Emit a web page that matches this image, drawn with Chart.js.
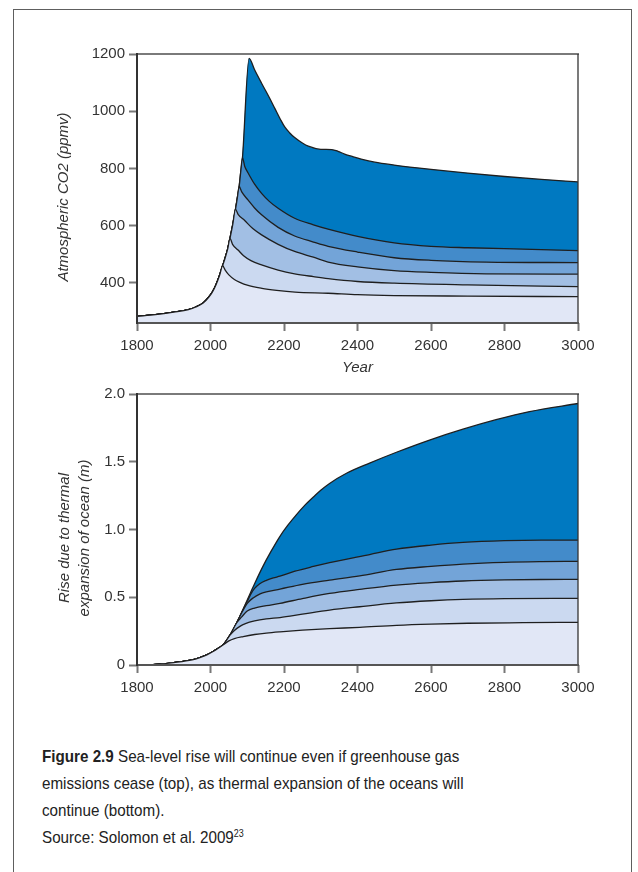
<!DOCTYPE html>
<html>
<head>
<meta charset="utf-8">
<script src="https://cdn.jsdelivr.net/npm/chart.js@4.4.1/dist/chart.umd.min.js"></script>
<style>
  html, body { margin: 0; padding: 0; background: #fff; width: 638px; height: 872px; overflow: hidden; }
  #frame { position: absolute; left: 13px; top: 9px; width: 619px; height: 900px; border: 1px solid #5e5e5e; box-sizing: border-box; }
  .wrap { position: absolute; left: 0; }
  #co2Wrap { top: 0; }
  #seaWrap { top: 380px; }
  #caption { position: absolute; left: 42px; top: 743px; width: 482px; font-family: "Liberation Sans", Arial, sans-serif; font-size: 17px; line-height: 27px; color: #222; transform: scaleX(0.894); transform-origin: 0 0; }
  #caption b { font-weight: bold; }
  #caption sup { font-size: 10px; line-height: 0; vertical-align: 6px; }
</style>
</head>
<body>
<div id="frame"></div>
<div class="wrap" id="co2Wrap"><canvas id="co2Chart" width="638" height="390"></canvas></div>
<div class="wrap" id="seaWrap"><canvas id="seaChart" width="638" height="340"></canvas></div>
<div id="caption"><b>Figure 2.9</b> Sea-level rise will continue even if greenhouse gas emissions cease (top), as thermal expansion of the oceans will continue (bottom).<br>Source: Solomon et al. 2009<sup>23</sup></div>

<script>
// Peak-CO2 scenarios (ppmv), lightest band first
const scenarios = ['450', '550', '650', '750', '850', '1200'];
const bandColors = ['#e1e7f6', '#cbd9f0', '#a2bfe4', '#73a4d8', '#438bca', '#0079c1'];

// Axis ticks
const yearTicks = [1800, 2000, 2200, 2400, 2600, 2800, 3000];
const co2Ticks = [400, 600, 800, 1000, 1200];
const seaTicks = [0, 0.5, 1.0, 1.5, 2.0];

// ---- Atmospheric CO2 (ppmv) ----
// Shared emissions-phase rise, up to the highest peak
const co2RiseYears  = [1800, 1850, 1900, 1940, 1960, 1980, 1995, 2005, 2015, 2025, 2033, 2040, 2047, 2053, 2060, 2068, 2073, 2078, 2082, 2087, 2105];
const co2RiseValues = [283,  289,  298,  307,  316,  330,  350,  368,  394,  428,  460,  488,  520,  556,  600,  657,  697,  737,  785,  838,  1185];
// Year at which emissions stop in each scenario
const co2PeakYears = [2033, 2053, 2068, 2078, 2087, 2105];
// Decline after emissions cease
const co2Tail450Years = [2040, 2050, 2065, 2080, 2100, 2140, 2180, 2230, 2320, 2400, 2500, 2700, 3000];
const co2Tail450      = [445,  428,  412,  402,  392,  381,  374,  368,  364,  359,  356,  354,  352];
const co2Tail550Years = [2060, 2075, 2090, 2110, 2139, 2184, 2229, 2280, 2320, 2400, 2500, 2700, 3000];
const co2Tail550      = [535,  515,  495,  478,  463,  445,  432,  422,  415,  405,  399,  393,  387];
const co2Tail650Years = [2075, 2093, 2115, 2139, 2184, 2229, 2280, 2320, 2400, 2500, 2600, 2750, 3000];
const co2Tail650      = [640,  618,  590,  568,  535,  510,  490,  473,  456,  443,  437,  432,  431];
const co2Tail750Years = [2085, 2102, 2120, 2139, 2184, 2229, 2280, 2320, 2400, 2500, 2600, 2750, 3000];
const co2Tail750      = [718,  690,  662,  638,  594,  564,  543,  528,  508,  488,  479,  473,  471];
const co2Tail850Years = [2093, 2102, 2120, 2139, 2160, 2184, 2229, 2280, 2320, 2400, 2500, 2600, 2700, 2850, 3000];
const co2Tail850      = [808,  785,  745,  713,  685,  661,  626,  603,  588,  563,  540,  528,  523,  518,  513];
const co2Tail1200Years = [2120, 2139, 2160, 2175, 2190, 2202, 2215, 2229, 2250, 2266, 2300, 2330, 2347, 2365, 2383, 2410, 2447, 2500, 2600, 2700, 2800, 2900, 3000];
const co2Tail1200      = [1145, 1098, 1048, 1010, 972,  945,  925,  908,  889,  878,  867,  866,  860,  850,  843,  833,  822,  812,  797,  784,  772,  762,  753];

// ---- Sea-level rise from thermal expansion (m) ----
const seaRiseYears  = [1800, 1850, 1900, 1950, 1971, 1990, 2007, 2020, 2035, 2053, 2071, 2080, 2092];
const seaRiseValues = [0,    0.004, 0.018, 0.038, 0.055, 0.075, 0.1, 0.122, 0.15, 0.22, 0.31, 0.36, 0.43];
const seaBranchYears = [2035, 2053, 2071, 2080, 2092, 2092];
const seaTail450Years = [2050, 2065, 2089, 2120, 2152, 2189, 2250, 2324, 2406, 2506, 2600, 2700, 2850, 3000];
const seaTail450      = [0.178, 0.195, 0.21, 0.225, 0.236, 0.245, 0.257, 0.268, 0.278, 0.293, 0.302, 0.308, 0.312, 0.315];
const seaTail550Years = [2065, 2080, 2095, 2120, 2152, 2189, 2250, 2324, 2406, 2506, 2600, 2687, 2800, 3000];
const seaTail550      = [0.255, 0.285, 0.305, 0.325, 0.34, 0.35, 0.375, 0.405, 0.43, 0.458, 0.474, 0.484, 0.49, 0.492];
const seaTail650Years = [2085, 2100, 2120, 2152, 2189, 2250, 2324, 2406, 2506, 2600, 2687, 2800, 2900, 3000];
const seaTail650      = [0.355, 0.398, 0.42, 0.438, 0.455, 0.49, 0.528, 0.558, 0.59, 0.608, 0.62, 0.628, 0.631, 0.632];
const seaTail750Years = [2090, 2100, 2116, 2135, 2152, 2189, 2250, 2324, 2406, 2506, 2600, 2687, 2800, 2900, 3000];
const seaTail750      = [0.41, 0.455, 0.495, 0.525, 0.54, 0.56, 0.595, 0.626, 0.658, 0.705, 0.728, 0.745, 0.758, 0.763, 0.765];
const seaTail850Years = [2100, 2110, 2120, 2134, 2152, 2171, 2189, 2230, 2280, 2324, 2433, 2506, 2600, 2687, 2800, 2900, 3000];
const seaTail850      = [0.47, 0.525, 0.565, 0.6, 0.625, 0.643, 0.655, 0.692, 0.727, 0.755, 0.815, 0.855, 0.885, 0.905, 0.918, 0.922, 0.922];
const seaTail1200Years = [2100, 2110, 2120, 2143, 2165, 2189, 2210, 2234, 2257, 2280, 2300, 2324, 2370, 2433, 2506, 2596, 2687, 2777, 2868, 3000];
const seaTail1200      = [0.48, 0.54, 0.6, 0.73, 0.84, 0.95, 1.03, 1.11, 1.18, 1.24, 1.29, 1.34, 1.415, 1.49, 1.57, 1.66, 1.74, 1.81, 1.87, 1.93];

// Shared rise up to the scenario's end of emissions, then its own tail
function scenarioPoints(envYears, envValues, endYear, tailYears, tailValues) {
  const pts = [];
  envYears.forEach((yr, i) => { if (yr <= endYear) pts.push({ x: yr, y: envValues[i] }); });
  tailYears.forEach((yr, i) => pts.push({ x: yr, y: tailValues[i] }));
  return pts;
}

function buildDatasets(envYears, envValues, endYears, tails) {
  // first dataset is drawn last, so the smallest scenario sits on top
  return scenarios.map((name, i) => ({
    label: name,
    data: scenarioPoints(envYears, envValues, endYears[i], tails[i][0], tails[i][1]),
    fill: 'start',
    backgroundColor: bandColors[i],
    borderColor: '#1f1f1f',
    borderWidth: 1.3,
    pointRadius: 0,
    cubicInterpolationMode: 'monotone'
  }));
}

const co2Datasets = buildDatasets(co2RiseYears, co2RiseValues, co2PeakYears, [
  [co2Tail450Years, co2Tail450], [co2Tail550Years, co2Tail550], [co2Tail650Years, co2Tail650],
  [co2Tail750Years, co2Tail750], [co2Tail850Years, co2Tail850], [co2Tail1200Years, co2Tail1200]
]);
const seaDatasets = buildDatasets(seaRiseYears, seaRiseValues, seaBranchYears, [
  [seaTail450Years, seaTail450], [seaTail550Years, seaTail550], [seaTail650Years, seaTail650],
  [seaTail750Years, seaTail750], [seaTail850Years, seaTail850], [seaTail1200Years, seaTail1200]
]);

const FONT = '"Liberation Sans", Arial, Helvetica, sans-serif';
Chart.defaults.font.family = FONT;
Chart.defaults.font.size = 15;
Chart.defaults.color = '#333';

// Plot frame: grey top edge, dark right edge, dark axes on left and bottom
const framePlugin = {
  id: 'plotFrame',
  afterDatasetsDraw(chart) {
    const { ctx, chartArea: a } = chart;
    ctx.save();
    ctx.lineCap = 'butt';
    ctx.strokeStyle = '#7a7a7a';
    ctx.lineWidth = 2;
    ctx.beginPath(); ctx.moveTo(a.left, a.top); ctx.lineTo(a.right + 1, a.top); ctx.stroke();
    ctx.strokeStyle = '#333';
    ctx.lineWidth = 1.3;
    ctx.beginPath(); ctx.moveTo(a.right, a.top); ctx.lineTo(a.right, a.bottom); ctx.stroke();
    ctx.strokeStyle = '#555';
    ctx.lineWidth = 2;
    ctx.beginPath(); ctx.moveTo(a.left - 1, a.bottom); ctx.lineTo(a.right + 1, a.bottom); ctx.stroke();
    ctx.strokeStyle = '#333';
    ctx.beginPath(); ctx.moveTo(a.left, a.top - 1); ctx.lineTo(a.left, a.bottom + 1); ctx.stroke();
    ctx.restore();
  }
};

// Rotated, italic y-axis title (one or more lines)
const sideTitlePlugin = {
  id: 'sideTitle',
  afterDraw(chart, args, opts) {
    const { ctx, chartArea: a } = chart;
    const cy = (a.top + a.bottom) / 2 + opts.shift;
    ctx.save();
    ctx.font = 'italic 15px ' + FONT;
    ctx.fillStyle = '#333';
    ctx.textAlign = 'center';
    ctx.textBaseline = 'middle';
    opts.lines.forEach((t, i) => {
      ctx.save();
      ctx.translate(opts.x + i * opts.gap, cy);
      ctx.rotate(-Math.PI / 2);
      ctx.fillText(t, 0, 0);
      ctx.restore();
    });
    ctx.restore();
  }
};

function tickGrid() {
  return { display: true, drawOnChartArea: false, drawTicks: true, tickLength: 8, tickWidth: 2, tickColor: '#777' };
}

function makeChart(id, datasets, yScale, pad, xHeight, xTitle, sideTitle) {
  return new Chart(document.getElementById(id), {
    type: 'line',
    data: { datasets },
    options: {
      responsive: false,
      animation: false,
      events: [],
      layout: { padding: pad },
      plugins: { legend: { display: false }, tooltip: { enabled: false }, sideTitle },
      scales: {
        x: {
          type: 'linear',
          min: 1800, max: 3000,
          afterBuildTicks: s => { s.ticks = yearTicks.map(v => ({ value: v })); },
          ticks: { padding: 6, maxRotation: 0, autoSkip: false, callback: v => String(v) },
          grid: tickGrid(),
          border: { display: false },
          title: xTitle,
          afterFit: s => { s.height = xHeight; }
        },
        y: Object.assign({
          grid: tickGrid(),
          border: { display: false },
          afterFit: s => { s.width = 137; }
        }, yScale)
      }
    },
    plugins: [framePlugin, sideTitlePlugin]
  });
}

makeChart('co2Chart', co2Datasets, {
  min: 260, max: 1200,
  afterBuildTicks: s => { s.ticks = co2Ticks.map(v => ({ value: v })); },
  ticks: { padding: 4, callback: v => String(v) }
}, { top: 54, right: 60, left: 0, bottom: 0 }, 67,
{ display: true, text: 'Year', font: { style: 'italic', size: 15 }, color: '#333', padding: { top: 0, bottom: 13 } },
{ lines: ['Atmospheric CO2 (ppmv)'], x: 64, gap: 0, shift: 8.5 });

makeChart('seaChart', seaDatasets, {
  min: 0, max: 2.0,
  afterBuildTicks: s => { s.ticks = seaTicks.map(v => ({ value: v })); },
  ticks: { padding: 4, callback: v => (v === 0 ? '0' : v.toFixed(1)) }
}, { top: 14, right: 60, left: 0, bottom: 0 }, 55,
{ display: false },
{ lines: ['Rise due to thermal', 'expansion of ocean (m)'], x: 65, gap: 20, shift: 8.5 });
</script>
</body>
</html>
